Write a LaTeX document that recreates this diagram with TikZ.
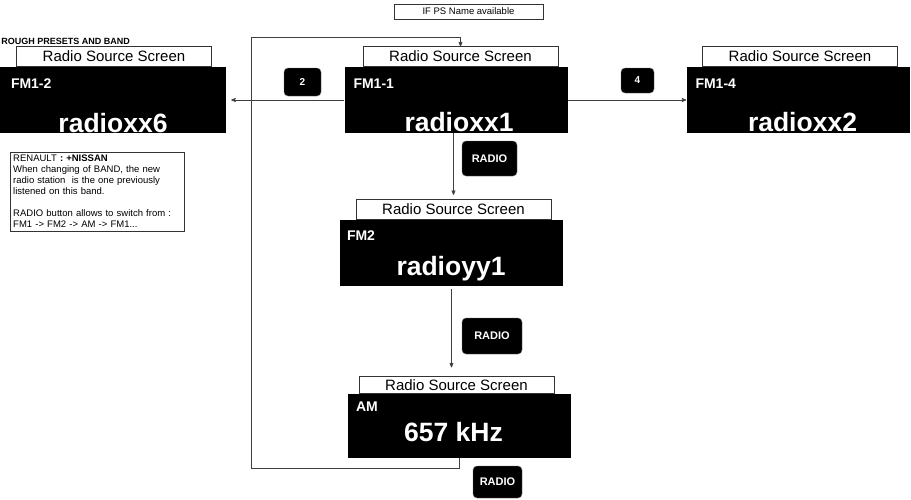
\documentclass[tikz,border=0pt]{standalone}
\usepackage{fontspec}
\setmainfont{Liberation Sans}
\usetikzlibrary{arrows}
\usetikzlibrary{positioning}

\begin{document}
\begin{tikzpicture}[x=1pt,y=-1pt,>=stealth',
  screen/.style={fill=black,minimum width=223pt,minimum height=66pt,inner sep=0pt},
  header/.style={draw=black!80,fill=white,minimum width=195pt,minimum height=20pt,inner sep=0pt,font=\fontsize{15}{15}\selectfont},
  band/.style={text=white,inner sep=0pt,anchor=base west,font=\bfseries\fontsize{14}{14}\selectfont},
  station/.style={text=white,inner sep=0pt,anchor=base,font=\bfseries\fontsize{26.5}{26.5}\selectfont},
  key/.style={fill=black,draw=black!55,rounded corners=4pt,inner sep=0pt,text=white,font=\bfseries\fontsize{10}{10}\selectfont},
  link/.style={->,draw=black!75,line width=0.7pt}]

  \useasboundingbox (0,0) rectangle (911,499);

  \node[anchor=base east,inner sep=0pt,font=\bfseries\fontsize{9}{9}\selectfont] (title) at (130,44) {ROUGH PRESETS AND BAND};
  \node[draw=black!80,minimum width=149pt,minimum height=15pt,inner sep=0pt,font=\fontsize{9.5}{9.5}\selectfont] (ps) at (468.5,11.5) {IF PS Name available};

  % screens
  \node[screen,minimum width=226pt] (fm12) at (113,100) {};
  \node[screen] (fm11) at (456,100) {};
  \node[screen] (fm14) at (798,100) {};
  \node[screen] (fm2) at (451.5,252.5) {};
  \node[screen,minimum height=64pt] (am) at (459.5,426) {};

  \node[header] (fm12h) [above=0pt of fm12,xshift=1pt] {Radio Source Screen};
  \node[header] (fm11h) [above=0pt of fm11,xshift=4.5pt] {Radio Source Screen};
  \node[header] (fm14h) [above=0pt of fm14,xshift=2pt] {Radio Source Screen};
  \node[header] (fm2h) [above=0pt of fm2,xshift=2pt] {Radio Source Screen};
  \node[header,minimum height=17pt] (amh) [above=0pt of am,xshift=-3pt] {Radio Source Screen};

  \node[band] (fm12a) at ([shift={(11,22)}]fm12.north west) {FM1-2};
  \node[band] (fm11a) at ([shift={(9,22)}]fm11.north west) {FM1-1};
  \node[band] (fm14a) at ([shift={(9,22)}]fm14.north west) {FM1-4};
  \node[band] (fm2a) at ([shift={(7,21)}]fm2.north west) {FM2};
  \node[band] (ama) at ([shift={(8,18)}]am.north west) {AM};

  \node[station] (fm12b) at ([shift={(0,-1)}]fm12.south) {radioxx6};
  \node[station] (fm11b) at ([shift={(3,-2)}]fm11.south) {radioxx1};
  \node[station] (fm14b) at ([shift={(4.5,-2)}]fm14.south) {radioxx2};
  \node[station] (fm2b) at ([shift={(-0.5,-10)}]fm2.south) {radioyy1};
  \node[station] (amb) at ([shift={(-6,-17)}]am.south) {657 kHz};

  % buttons
  \node[key,minimum width=37pt,minimum height=28pt] (b2) at (302.5,82) {2};
  \node[key,minimum width=33pt,minimum height=25pt] (b4) at (637.5,80.5) {4};
  \node[key,minimum width=55pt,minimum height=35pt,font=\bfseries\fontsize{11}{11}\selectfont] (r1) at (489.5,158.5) {RADIO};
  \node[key,minimum width=60pt,minimum height=36pt,font=\bfseries\fontsize{11}{11}\selectfont] (r2) at (492,336) {RADIO};
  \node[key,minimum width=49pt,minimum height=32pt,font=\bfseries\fontsize{11}{11}\selectfont] (r3) at (497.5,482) {RADIO};

  \node[draw=black!80,anchor=north west,text width=168pt,inner sep=3pt,align=left,font=\fontsize{9.5}{11}\selectfont] (note) at (10,152)
    {RENAULT \textbf{: +NISSAN}\\When changing of BAND, the new\\radio station\ \ is the one previously\\listened on this band.\\[11pt]RADIO button allows to switch from :\\FM1 -> FM2 -> AM -> FM1...};

  % transitions
  \coordinate (lb) at (251,468);
  \coordinate (lt) at (251,37);
  \draw[link,shorten >=5pt] (fm11.west) -- (fm12.east);
  \draw[link] (fm11.east) -- (fm14.west);
  \draw[link,shorten >=4pt] (fm2h.north |- fm11.south) -- (fm2h.north);
  \draw[link,shorten <=3pt,shorten >=9pt] (fm2.south) -- (fm2.south |- amh.north);
  \draw[link] (am.south) |- (lb) -- (lt) -| (fm11h.north);
\end{tikzpicture}
\end{document}
